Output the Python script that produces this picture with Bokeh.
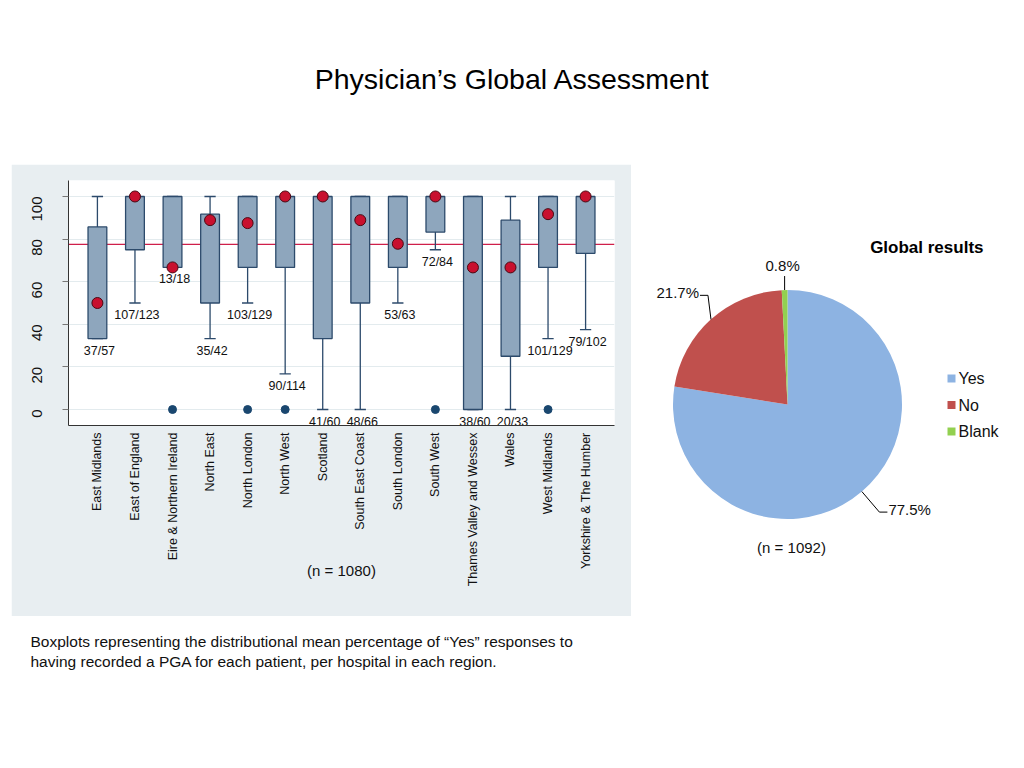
import math
from bokeh.plotting import figure
from bokeh.layouts import column, row, Spacer
from bokeh.models import Range1d, FixedTicker, Span
from bokeh.core.properties import value
from bokeh.embed import file_html
from bokeh.resources import INLINE

# ---------------- data ----------------
title_text = "Physician\u2019s Global Assessment"
caption_lines = [
    "Boxplots representing the distributional mean percentage of \u201cYes\u201d responses to",
    "having recorded a PGA for each patient, per hospital in each region.",
]

regions = ["East Midlands", "East of England", "Eire & Northern Ireland", "North East",
           "North London", "North West", "Scotland", "South East Coast", "South London",
           "South West", "Thames Valley and Wessex", "Wales", "West Midlands",
           "Yorkshire & The Humber"]
q1 = [33.3, 75.0, 66.7, 50.0, 66.7, 66.7, 33.3, 50.0, 66.7, 83.3, 0.0, 25.0, 66.7, 73.3]
q3 = [85.7, 100, 100, 91.7, 100, 100, 100, 100, 100, 100, 100, 88.9, 100, 100]
whisker_lo = [33.3, 50.0, 66.7, 33.3, 50.0, 16.7, 0.0, 0.0, 50.0, 75.0, 0.0, 0.0, 33.3, 37.5]
whisker_hi = [100, 100, 100, 100, 100, 100, 100, 100, 100, 100, 100, 100, 100, 100]
medians = [50.0, 100, 66.7, 88.9, 87.5, 100, 100, 88.9, 77.8, 100, 66.7, 66.7, 91.7, 100]
count_labels = ["37/57", "107/123", "13/18", "35/42", "103/129", "90/114", "41/60",
                "48/66", "53/63", "72/84", "38/60", "20/33", "101/129", "79/102"]
outlier_regions = ["Eire & Northern Ireland", "North London", "North West",
                   "South West", "West Midlands"]
outlier_values = [0, 0, 0, 0, 0]
y_ticks = [0, 20, 40, 60, 80, 100]
box_n_label = "(n = 1080)"

pie_title = "Global results"
pie_categories = ["Yes", "No", "Blank"]
pie_values = [77.5, 21.7, 0.8]
pie_n_label = "(n = 1092)"

# ---------------- styles ----------------
FONT = value("Liberation Sans")
PANEL = "#e8eef1"
BOX_FILL = "#8ea6bd"
BOX_LINE = "#2c4a6b"
MED_FILL = "#c8102e"
REF_LINE = "#cf1f4a"
OUT_COL = "#1a476f"
PIE_COLORS = ["#8db3e2", "#c0504d", "#92d050"]


def blank_fig(w, h):
    f = figure(width=w, height=h, x_range=Range1d(0, w), y_range=Range1d(0, h),
               output_backend="svg", toolbar_location=None, min_border=0,
               x_axis_location=None, y_axis_location=None, frame_align=False)
    f.grid.visible = False
    f.outline_line_color = None
    return f


# ---------------- title ----------------
tf = blank_fig(1016, 156)
tf.text(x=[512], y=[86], text=[title_text], text_font=FONT, text_font_size="28.5px",
        text_align="center", text_baseline="middle", text_color="#000000")

# ---------------- boxplot ----------------
xs = list(range(1, len(regions) + 1))
pos = {r: i for r, i in zip(regions, xs)}

bp = figure(width=620, height=452, x_range=Range1d(0.23, 14.77), y_range=Range1d(-7.5, 107.5),
            output_backend="svg", toolbar_location=None, frame_align=False,
            min_border_left=57, min_border_right=17, min_border_top=16, min_border_bottom=191)
bp.border_fill_color = PANEL
bp.background_fill_color = "white"
bp.outline_line_color = None
bp.xgrid.visible = False
bp.ygrid.ticker = FixedTicker(ticks=y_ticks)
bp.ygrid.grid_line_color = "#e3ebee"
bp.ygrid.grid_line_width = 1

bp.yaxis.ticker = FixedTicker(ticks=y_ticks)
bp.yaxis.major_label_orientation = math.pi / 2
bp.yaxis.major_label_text_font = "Liberation Sans"
bp.yaxis.major_label_text_font_size = "15px"
bp.yaxis.major_label_text_color = "#111111"
bp.yaxis.major_label_standoff = 25
bp.yaxis.major_tick_out = 6
bp.yaxis.major_tick_in = 0
bp.yaxis.major_tick_line_color = "#777777"
bp.yaxis.minor_tick_line_color = None
bp.yaxis.axis_line_color = "#333333"

bp.xaxis.ticker = FixedTicker(ticks=xs)
bp.xaxis.major_label_overrides = {x: r for x, r in zip(xs, regions)}
bp.xaxis.major_label_orientation = math.pi / 2
bp.xaxis.major_label_text_font = "Liberation Sans"
bp.xaxis.major_label_text_font_size = "12.5px"
bp.xaxis.major_label_text_color = "#111111"
bp.xaxis.major_label_standoff = 7
bp.xaxis.major_tick_out = 0
bp.xaxis.major_tick_in = 0
bp.xaxis.minor_tick_line_color = None
bp.xaxis.axis_line_color = "#333333"
bp.xaxis.axis_label = box_n_label
bp.xaxis.axis_label_text_font = "Liberation Sans"
bp.xaxis.axis_label_text_font_style = "normal"
bp.xaxis.axis_label_text_font_size = "15px"
bp.xaxis.axis_label_text_color = "#111111"
bp.xaxis.axis_label_standoff = -27

ref = Span(location=pie_values[0], dimension="width", line_color=REF_LINE,
           line_width=1.3, level="underlay")
bp.add_layout(ref)

# whiskers
bp.segment(x0=xs, y0=q3, x1=xs, y1=whisker_hi, line_color=BOX_LINE, line_width=1.3)
bp.segment(x0=xs, y0=q1, x1=xs, y1=whisker_lo, line_color=BOX_LINE, line_width=1.3)
cap = 0.15
bp.segment(x0=[x - cap for x in xs], y0=whisker_hi, x1=[x + cap for x in xs], y1=whisker_hi,
           line_color=BOX_LINE, line_width=1.3)
bp.segment(x0=[x - cap for x in xs], y0=whisker_lo, x1=[x + cap for x in xs], y1=whisker_lo,
           line_color=BOX_LINE, line_width=1.3)
# boxes
bp.vbar(x=xs, top=q3, bottom=q1, width=0.5, fill_color=BOX_FILL, line_color=BOX_LINE,
        line_width=1.3)
# medians
bp.scatter(x=xs, y=medians, size=11, marker="circle", fill_color=MED_FILL,
           line_color="#4a0812", line_width=1)
# outliers
bp.scatter(x=[pos[r] for r in outlier_regions], y=outlier_values, size=8, marker="circle",
           fill_color=OUT_COL, line_color=OUT_COL)
# count labels
bp.text(x=xs, y=whisker_lo, text=count_labels, text_font=FONT, text_font_size="12.5px",
        text_align="center", text_baseline="top", x_offset=2, y_offset=5,
        text_color="#111111")

# ---------------- pie ----------------
pp = blank_fig(385, 452)

cx, cy, R = 156, 212, 114.5
total = sum(pie_values)
starts, ends, mids = [], [], []
acc = 0.0
for v in pie_values:
    a0 = math.radians(90 - 360 * acc / total)
    acc += v
    a1 = math.radians(90 - 360 * acc / total)
    starts.append(a0)
    ends.append(a1)
    mids.append((a0 + a1) / 2)

pp.wedge(x=[cx] * len(pie_values), y=[cy] * len(pie_values), radius=R,
         start_angle=starts, end_angle=ends, direction="clock",
         fill_color=PIE_COLORS, line_color=None)

L = 27
for v, m in zip(pie_values, mids):
    c, s = math.cos(m), math.sin(m)
    ex, ey = cx + R * c, cy + R * s
    lab = f"{v:.1f}%"
    if abs(c) < 0.3:
        top = ey + 14
        pp.line(x=[ex, ex], y=[ey, top], line_color="#000000", line_width=1)
        pp.text(x=[ex - 2], y=[top + 2], text=[lab], text_font=FONT, text_font_size="15px",
                text_align="center", text_baseline="bottom", text_color="#111111")
    else:
        sg = 1 if c > 0 else -1
        if s > 0:
            bx, by = ex - 3, ey + 24
        else:
            bx, by = cx + (R + L) * c, cy + (R + L) * s
        tx = bx + sg * 8
        pp.line(x=[ex, bx, tx], y=[ey, by, by], line_color="#000000", line_width=1)
        pp.text(x=[tx + sg * 1], y=[by + 3], text=[lab], text_font=FONT, text_font_size="15px",
                text_align="left" if sg > 0 else "right", text_baseline="middle",
                text_color="#111111")

pp.text(x=[352], y=[369], text=[pie_title], text_font=FONT, text_font_size="17px",
        text_font_style="bold", text_align="right", text_baseline="middle", text_color="#000000")

for i, (cat, col) in enumerate(zip(pie_categories, PIE_COLORS)):
    ly = 238 - 26.5 * i
    pp.rect(x=[320], y=[ly], width=8, height=8, fill_color=col, line_color=None)
    pp.text(x=[327], y=[ly], text=[cat], text_font=FONT, text_font_size="16px",
            text_align="left", text_baseline="middle", text_color="#111111")

pp.text(x=[160], y=[69], text=[pie_n_label], text_font=FONT, text_font_size="15px",
        text_align="center", text_baseline="middle", text_color="#111111")

# ---------------- caption ----------------
cf = blank_fig(1016, 140)
cf.text(x=[30] * len(caption_lines), y=[115 - 20 * i for i in range(len(caption_lines))],
        text=caption_lines, text_font=FONT, text_font_size="15.5px",
        text_align="left", text_baseline="middle", text_color="#111111")

layout = column(Spacer(width=1016, height=8), tf,
                row(Spacer(width=11, height=452), bp, pp), cf)
open("out.html", "w").write(file_html(layout, INLINE))
